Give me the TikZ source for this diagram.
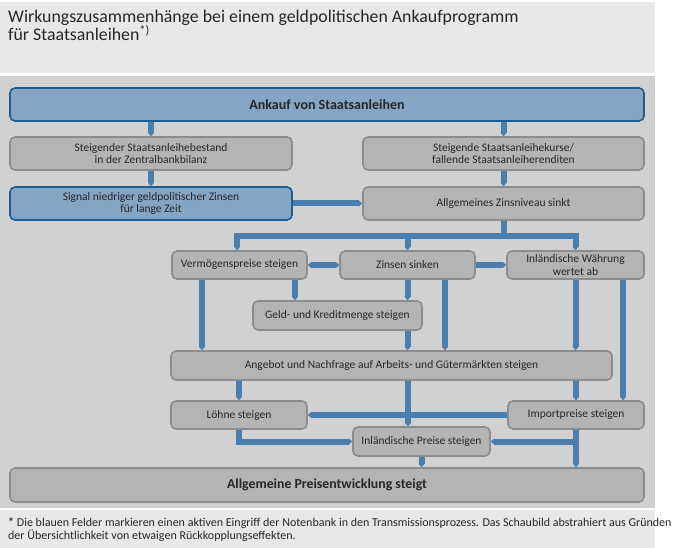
\documentclass[tikz,border=0pt]{standalone}
\usepackage{fontspec}
\setmainfont{Carlito}
\usepackage{tikz}
\usetikzlibrary{arrows.meta}

\definecolor{bandgrey}{HTML}{E8E8E8}
\definecolor{panelgrey}{HTML}{D1D1D1}
\definecolor{boxfill}{HTML}{B4B4B4}
\definecolor{boxline}{HTML}{8C8C8C}
\definecolor{bluefill}{HTML}{86A4C4}
\definecolor{blueline}{HTML}{1B5C91}
\definecolor{flowblue}{HTML}{497EAF}
\definecolor{textgrey}{HTML}{262626}

\begin{document}
\begin{tikzpicture}[x=1pt,y=-1pt,
		box/.style={draw=boxline, fill=boxfill, line width=1.6pt, rounded corners=5pt,
			minimum height=28, align=center, inner sep=0pt, text=textgrey,
			font=\fontsize{11.5}{12.5}\selectfont},
		bluebox/.style={box, draw=blueline, fill=bluefill},
		flow/.style={draw=flowblue, line width=6pt,
			-{Triangle[length=3.5pt,width=6pt]}},
		both/.style={flow, {Triangle[length=3.5pt,width=6pt]}-{Triangle[length=3.5pt,width=6pt]}}]
		
		% hintergrund
		\useasboundingbox (0,0) rectangle (680,548);
		\fill[white] (0,0) rectangle (680,548);
		\fill[bandgrey] (0,2) rectangle (655,73);
		\fill[panelgrey] (0,76) rectangle (655,508);
		\fill[bandgrey] (0,510) rectangle (655,548);
		
		\node[anchor=base west, align=left, inner sep=0pt, text=textgrey,
			font=\fontsize{17.8}{18.5}\selectfont] (titel) at (8,41)
			{Wirkungszusammenhänge bei einem geldpolitischen Ankaufprogramm\\
			 für Staatsanleihen\textsuperscript{*)}};
		
		% kaestchen
		\node[bluebox, minimum width=634, minimum height=33,
			font=\fontsize{14}{15}\bfseries] (ankauf) at (327,104.5) {Ankauf von Staatsanleihen};
		
		\node[box, minimum width=282, minimum height=33] (bestand) at (151,153.5)
			{Steigender Staatsanleihebestand\\in der Zentralbankbilanz};
		\node[box, minimum width=281, minimum height=33] (kurse) at (503.5,153.5)
			{Steigende Staatsanleihekurse/\\fallende Staatsanleiherenditen};
		
		\node[bluebox, minimum width=282, minimum height=33] (signal) at (151,203.5)
			{Signal niedriger geldpolitischer Zinsen\\für lange Zeit};
		\node[box, minimum width=281, minimum height=33] (niveau) at (503.5,203.5)
			{Allgemeines Zinsniveau sinkt};
		
		\node[box, minimum width=135] (verm) at (239.5,265) {Vermögenspreise steigen};
		\node[box, minimum width=135] (zinsen) at (407.5,265) {Zinsen sinken};
		\node[box, minimum width=137] (waehrung) at (575.5,265) {Inländische Währung\\wertet ab};
		
		\node[box, minimum width=169, minimum height=29] (geld) at (337.5,315.5) {Geld- und Kreditmenge steigen};
		
		\node[box, minimum width=441, minimum height=29] (angebot) at (391.5,365.5)
			{Angebot und Nachfrage auf Arbeits- und Gütermärkten steigen};
		
		\node[box, minimum width=136] (loehne) at (239,415) {Löhne steigen};
		\node[box, minimum width=136] (import) at (576,415) {Importpreise steigen};
		\node[box, minimum width=137, minimum height=29] (inland) at (421.5,441.5) {Inländische Preise steigen};
		
		\node[box, minimum width=634, minimum height=34,
			font=\fontsize{13.8}{15}\bfseries] (preis) at (327,485) {Allgemeine Preisentwicklung steigt};
		
		% pfeile oben
		\draw[flow] (bestand.north |- ankauf.south) -- (bestand.north);
		\draw[flow] (kurse.north |- ankauf.south) -- (kurse.north);
		\draw[flow] (bestand) -- (signal);
		\draw[flow] (kurse) -- (niveau);
		\draw[flow] (signal.east) -- (niveau.west);
		
		\draw[flow] (niveau.south) |- (237,236) -- (verm.north -| 237,0);
		\draw[flow] (niveau.south) |- (407.5,236) -- (zinsen.north);
		\draw[flow] (niveau.south) |- (575.5,236) -- (waehrung.north);
		
		% pfeile mitte
		\draw[both] (zinsen.west) -- (verm.east);
		\draw[flow] (zinsen.east) -- (waehrung.west);
		\draw[flow] (verm.south -| 295,0) -- (geld.north -| 295,0);
		\draw[flow] (zinsen.south) -- (geld.north -| zinsen.south);
		\draw[flow] (verm.south -| 202,0) -- (angebot.north -| 202,0);
		\draw[flow] (geld.south -| zinsen.south) -- (angebot.north -| zinsen.south);
		\draw[flow] (zinsen.south -| 445,0) -- (angebot.north -| 445,0);
		\draw[flow] (waehrung.south) -- (angebot.north -| waehrung.south);
		\draw[flow] (waehrung.south -| 623,0) -- (import.north -| 623,0);
		
		% pfeile unten
		\draw[flow] (loehne.north |- angebot.south) -- (loehne.north);
		\draw[flow] (angebot.south -| 408,0) -- (inland.north -| 408,0);
		\draw[flow] (import.north |- angebot.south) -- (import.north);
		\draw[flow] (import.west) -- (loehne.east);
		\draw[flow] (loehne.south) |- (inland.west);
		\draw[flow] (import.south) |- (inland.east);
		\draw[flow] (import.south) -- (preis.north -| import.south);
		\draw[flow] (inland.south) -- (preis.north -| inland.south);
		
		\node[anchor=base west, align=left, inner sep=0pt, text=textgrey,
			font=\fontsize{12}{13}\selectfont] (fussnote) at (8,539)
			{\textbf{*} Die blauen Felder markieren einen aktiven Eingriff der Notenbank in den Transmissionsprozess. Das Schaubild abstrahiert aus Gründen\\
			 der Übersichtlichkeit von etwaigen Rückkopplungseffekten.};
	\end{tikzpicture}
\end{document}
